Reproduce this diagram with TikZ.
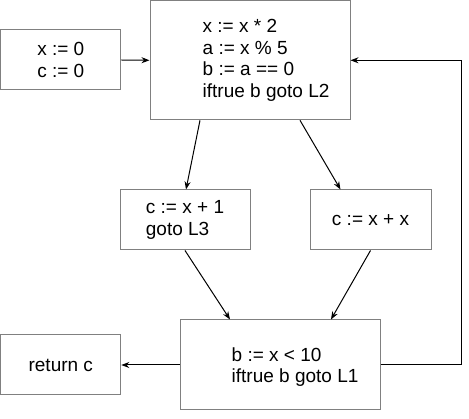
\documentclass[tikz,border=0pt]{standalone}
\usepackage{fontspec}
\setmainfont{Liberation Sans}
\usetikzlibrary{arrows.meta, calc, positioning}

\definecolor{boxgray}{RGB}{128,128,128}

\begin{document}
\begin{tikzpicture}[x=1pt, y=-1pt, >={Stealth[length=8pt, width=6pt]},
	blk/.style={draw=boxgray, line width=1pt, rectangle, inner sep=0pt},
	code/.style={inner sep=0pt, align=left, font=\fontsize{19}{21.7}\selectfont},
	arr/.style={->, line width=1pt, black}]
	
	% --- canvas ---
	\useasboundingbox (0,0) rectangle (469,419);
	
	% --- 1. THE BLOCKS ---
	\node[blk, minimum width=120pt, minimum height=60pt] (init) at (60.8,60) {};
	\node[code] at (init) {x := 0\\c := 0};
	
	\node[blk, minimum width=200pt, minimum height=119pt] (main) at (250,60.3) {};
	\node[code, anchor=west] at ($(main.west)+(53,0)$) {x := x * 2\\a := x \% 5\\b := a == 0\\iftrue b goto L2};
	
	\node[blk, minimum width=130pt, minimum height=60pt] (left) at (185,220) {};
	\node[code] at (left) {c := x + 1\\goto L3};
	
	\node[blk, minimum width=121pt, minimum height=60pt] (right) at (370.5,220) {};
	\node[code] at (right) {c := x + x};
	
	\node[blk, minimum width=200pt, minimum height=90pt] (bot) at (280,365) {};
	\node[code, anchor=west] at ($(bot.west)+(52,2)$) {b := x < 10\\iftrue b goto L1};
	
	\node[blk, minimum width=120pt, minimum height=60pt] (ret) at (60.8,365) {};
	\node[code] at (ret) {return c};
	
	% --- 2. THE EDGES ---
	\draw[arr] (init.east) -- (main.west);
	\draw[arr] ($(main.south)+(-50,0)$) -- ($(left.north)+(1,0)$);
	\draw[arr] ($(main.south)+(50,0)$) -- ($(right.north)+(-30,0)$);
	\draw[arr] (left.south) -- ($(bot.north)+(-50,0)$);
	\draw[arr] (right.south) -- ($(bot.north)+(51,0)$);
	\draw[arr] (bot.west) -- (ret.east);
	
	% back edge to the loop head
	\draw[arr] (bot.east) -- ++(81,0) |- (main.east);
	
\end{tikzpicture}
\end{document}
